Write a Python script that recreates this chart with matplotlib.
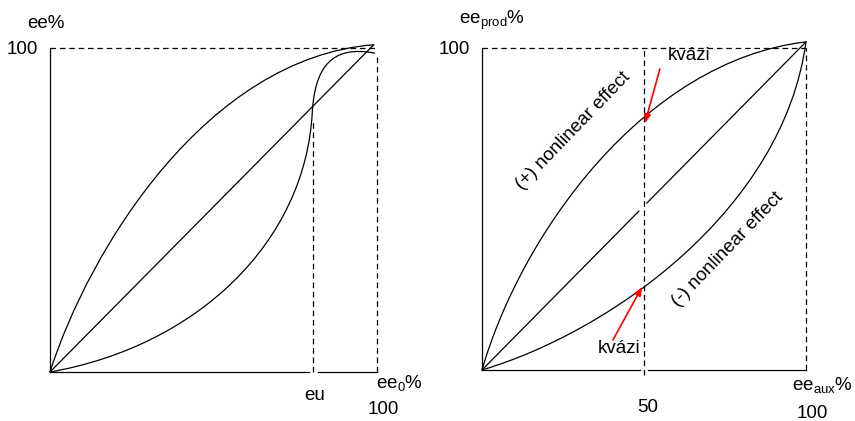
import numpy as np
import matplotlib
matplotlib.use("Agg")
import matplotlib.pyplot as plt
from matplotlib.path import Path
from matplotlib.patches import PathPatch

plt.rcParams['font.family'] = ['Liberation Sans', 'DejaVu Sans']
plt.rcParams['mathtext.fontset'] = 'custom'
plt.rcParams['mathtext.rm'] = 'Liberation Sans'

# curves are given as cubic bezier control points (x, y) in % units
# left panel: ee vs ee0
left_upper = [(0, 0), (12, 38), (48, 97), (99, 101)]
left_lower = [(0, 0), (45, 8), (78, 40), (80.2, 80),
              (81, 94), (86, 101), (99.4, 98.4)]
left_diag = [(0, 0), (99, 101)]
eu = 80.5

# right panel: ee_prod vs ee_aux
right_upper = [(0, 0), (12, 42), (50, 96), (100, 101.9)]
right_lower = [(0, 0), (40, 12), (93, 50), (100, 101.9)]
right_diag = [(0, 0), (100, 101.9)]
mid = 50

fig = plt.figure(figsize=(8.55, 4.21), dpi=100)
axL = fig.add_axes([50 / 855, 49 / 421, 327 / 855, 324 / 421])
axR = fig.add_axes([482 / 855, 51 / 421, 324 / 855, 322 / 421])

lw = 0.9
for ax in (axL, axR):
    ax.set_xlim(0, 100)
    ax.set_ylim(0, 100)
    ax.axis('off')

kw = dict(color='black', lw=lw, clip_on=False)
dkw = dict(color='black', lw=lw, ls=(0, (4.5, 3)), clip_on=False)


def bezier(ax, pts):
    codes = [Path.MOVETO] + [Path.CURVE4] * (len(pts) - 1)
    ax.add_patch(PathPatch(Path(pts, codes), fc='none', ec='black', lw=lw,
                           clip_on=False))


# ---- left
axL.plot([0, 0], [0, 100], **kw)
axL.plot([0, eu - 1.3], [0, 0], **kw)
axL.plot([eu + 1.4, 100], [0, 0], **kw)
axL.plot([0, 100], [100, 100], **dkw)
axL.plot([100, 100], [0, 97.5], **dkw)
axL.plot([eu, eu], [0, 78], **dkw)
axL.plot(*zip(*left_diag), **kw)
bezier(axL, left_upper)
bezier(axL, left_lower)

fs = 13.5
axL.text(-7, 107.7, 'ee%', fontsize=fs, ha='left', va='center')
axL.text(-3.7, 99.4, '100', fontsize=fs, ha='right', va='center')
axL.text(81, -7.1, 'eu', fontsize=fs, ha='center', va='center')
axL.text(99.7, -3.6, r'ee$_\mathregular{0}$%', fontsize=fs, ha='left', va='center')
axL.text(97, -11.7, '100', fontsize=fs, ha='left', va='center')

# ---- right
axR.plot([0, 0], [0, 100], **kw)
axR.plot([0, mid - 1.2], [0, 0], **kw)
axR.plot([mid + 1.2, 100], [0, 0], **kw)
axR.plot([0, 100], [100, 100], **dkw)
axR.plot([100, 100], [0, 100], **dkw)
axR.plot([mid, mid], [-1.5, 100], **dkw)
k = right_diag[1][1] / right_diag[1][0]
axR.plot([0, mid - 1.6], [0, (mid - 1.6) * k], **kw)
axR.plot([mid + 0.9, 100], [(mid + 0.9) * k, right_diag[1][1]], **kw)
bezier(axR, right_upper)
bezier(axR, right_lower)

axR.text(-7.1, 108.7, r'ee$_\mathregular{prod}$%', fontsize=fs, ha='left', va='center')
axR.text(-3.7, 99.4, '100', fontsize=fs, ha='right', va='center')
axR.text(51.2, -11.8, '50', fontsize=fs, ha='center', va='center')
axR.text(95.7, -5.0, r'ee$_\mathregular{aux}$%', fontsize=fs, ha='left', va='center')
axR.text(97, -13.4, '100', fontsize=fs, ha='left', va='center')
axR.text(57.4, 97.6, 'kvázi', fontsize=fs, ha='left', va='center')
axR.text(35.8, 6.8, 'kvázi', fontsize=fs, ha='left', va='center')
axR.text(28.3, 74.3, '(+) nonlinear effect', fontsize=fs, rotation=46,
         ha='center', va='center', rotation_mode='anchor')
axR.text(75.8, 37.6, '(-) nonlinear effect', fontsize=fs, rotation=46,
         ha='center', va='center', rotation_mode='anchor')

akw = dict(arrowstyle='-|>,head_length=0.5,head_width=0.2', color='red', lw=1.2,
           shrinkA=0, shrinkB=0)
axR.annotate('', xy=(50.3, 76.7), xytext=(54.9, 93.5), arrowprops=akw)
axR.annotate('', xy=(49.4, 25.8), xytext=(40.4, 9.3), arrowprops=akw)

fig.savefig('out.png', dpi=100)
